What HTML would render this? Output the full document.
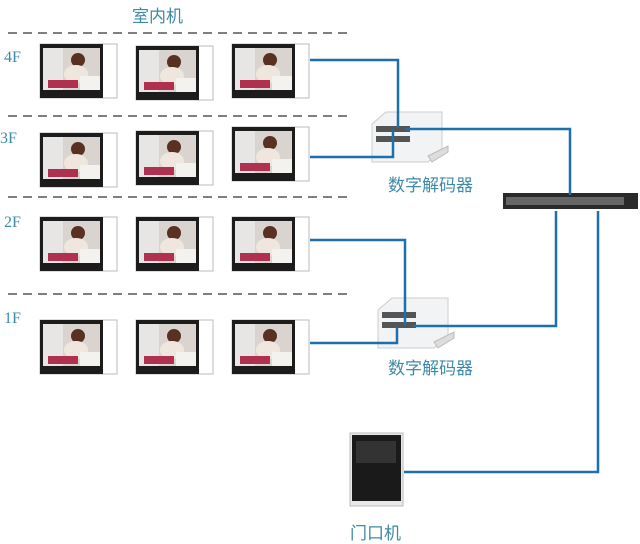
<!DOCTYPE html>
<html><head><meta charset="utf-8"><style>
html,body{margin:0;padding:0;background:#fff;}
svg{display:block;}
text{font-family:"Liberation Serif","Noto Serif CJK SC",serif;fill:#3f8aa6;}
.cn{font-family:"Liberation Sans","Noto Sans CJK SC",sans-serif;}
</style></head><body>
<svg width="640" height="544" viewBox="0 0 640 544" xmlns="http://www.w3.org/2000/svg">
<defs>
<g id="mon">
<rect x="0" y="0" width="77" height="54" fill="#fff" stroke="#bbb" stroke-width="1"/>
<rect x="0" y="0" width="63" height="54" fill="#1c1c1c"/>
<rect x="3" y="4" width="57" height="42" fill="#d9d4d0"/>
<rect x="3" y="4" width="20" height="42" fill="#e8e6e4"/>
<circle cx="38" cy="16" r="7" fill="#5a3020"/>
<ellipse cx="36" cy="30" rx="12" ry="9" fill="#efe6de"/>
<rect x="8" y="36" width="30" height="8" fill="#b03050"/>
<rect x="40" y="32" width="20" height="14" fill="#f4f2ee"/>
</g>
<g id="dec">
<polygon points="0,12 14,0 70,0 70,38 56,50 0,50" fill="#f2f3f4" stroke="#ccc"/>
<rect x="4" y="14" width="34" height="6" fill="#555"/>
<rect x="4" y="24" width="34" height="6" fill="#555"/>
<polygon points="56,44 76,34 76,40 60,50" fill="#ddd" stroke="#bbb"/>
</g>
</defs>
<text x="132" y="22" font-size="17" class="cn">室内机</text>
<g stroke="#333" stroke-width="1.2" stroke-dasharray="9,6">
<line x1="8" y1="33" x2="350" y2="33"/>
<line x1="8" y1="116" x2="350" y2="116"/>
<line x1="8" y1="197" x2="350" y2="197"/>
<line x1="8" y1="294" x2="350" y2="294"/>
</g>
<text x="4" y="62" font-size="16">4F</text>
<text x="0" y="143" font-size="16">3F</text>
<text x="4" y="227" font-size="16">2F</text>
<text x="4" y="323" font-size="16">1F</text>
<use href="#mon" x="40" y="44"/><use href="#mon" x="136" y="46"/><use href="#mon" x="232" y="44"/>
<use href="#mon" x="40" y="133"/><use href="#mon" x="136" y="131"/><use href="#mon" x="232" y="127"/>
<use href="#mon" x="40" y="217"/><use href="#mon" x="136" y="217"/><use href="#mon" x="232" y="217"/>
<use href="#mon" x="40" y="320"/><use href="#mon" x="136" y="320"/><use href="#mon" x="232" y="320"/>
<use href="#dec" x="372" y="112"/>
<use href="#dec" x="378" y="298"/>
<rect x="503" y="193" width="135" height="16" fill="#2a2a2a"/>
<rect x="506" y="197" width="118" height="8" fill="#666"/>
<rect x="350" y="433" width="53" height="73" fill="#e8e8e8" stroke="#bbb"/>
<rect x="352" y="435" width="49" height="66" fill="#1a1a1a"/>
<rect x="356" y="441" width="40" height="22" fill="#333"/>
<g fill="none" stroke="#1e6fae" stroke-width="2.5">
<polyline points="310,60 398,60 398,128"/>
<polyline points="310,157 393,157 393,130"/>
<polyline points="405,129 570,129 570,195"/>
<polyline points="310,240 405,240 405,325"/>
<polyline points="310,343 397,343 397,327"/>
<polyline points="413,326 556,326 556,211"/>
<polyline points="404,472 598,472 598,211"/>
</g>
<text x="388" y="191" font-size="17" class="cn">数字解码器</text>
<text x="388" y="374" font-size="17" class="cn">数字解码器</text>
<text x="350" y="539" font-size="17" class="cn">门口机</text>
</svg>
</body></html>
